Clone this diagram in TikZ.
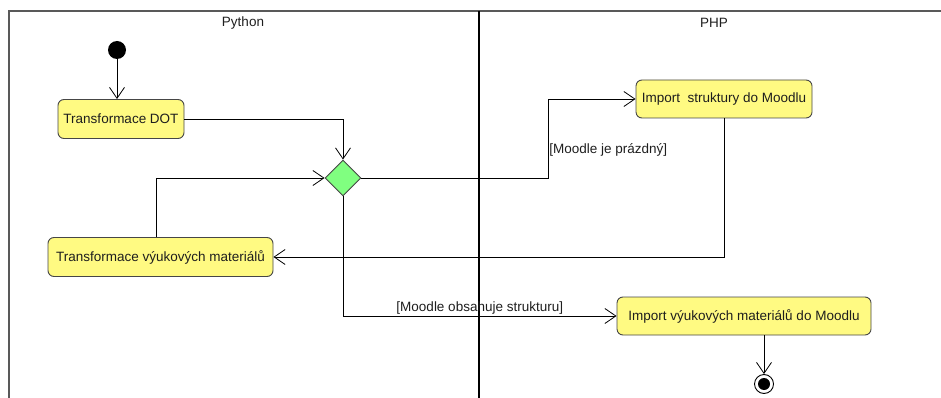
\documentclass[tikz,border=0pt]{standalone}
\usepackage{fontspec}
\setmainfont{Liberation Sans}
\usetikzlibrary{arrows.meta,shapes.geometric}
\definecolor{actfill}{RGB}{255,250,130}
\definecolor{actline}{RGB}{70,70,70}
\definecolor{decfill}{RGB}{128,255,128}
\definecolor{txt}{RGB}{30,30,30}
\tikzset{
  activity/.style={draw=actline, fill=actfill, rounded corners=6pt, line width=0.9pt,
    font=\fontsize{13.5}{15}\selectfont, text=txt, inner sep=0pt, align=center},
  decision/.style={draw=actline, fill=decfill, diamond, line width=0.9pt,
    minimum width=36pt, minimum height=36pt, inner sep=0pt},
  arr/.style={line width=0.8pt, -{Straight Barb[length=11pt,width=15pt,line width=0.8pt]}},
  guard/.style={font=\fontsize{13.5}{15}\selectfont, text=txt, inner sep=1pt},
  lane/.style={font=\fontsize{13.5}{15}\selectfont, text=txt},
}
\begin{document}
\begin{tikzpicture}[x=1pt,y=-1pt]
\useasboundingbox (0,0) rectangle (941,398);
% frame
\draw[line width=1.2pt, draw=black!65] (9,398) -- (9,11) -- (941,11);
\draw[line width=2pt] (479,11) -- (479,398);
\node[lane] (py) at (243,23) {Python};
\node[lane] (php) at (714,23) {PHP};
% nodes
\node[circle, fill=black, minimum size=18pt, inner sep=0pt] (start) at (117,50) {};
\node[activity, minimum width=126pt, minimum height=39pt] (dot) at (121,119) {Transformace DOT};
\node[decision] (dec) at (343,178) {};
\node[activity, minimum width=176pt, minimum height=38pt] (imp1) at (724,99) {Import\ \ struktury do Moodlu};
\node[activity, minimum width=225pt, minimum height=39pt] (trans) at (160.5,257) {Transformace výukových materiálů};
\node[activity, minimum width=254pt, minimum height=38pt] (imp2) at (744,316) {Import výukových materiálů do Moodlu};
\node[circle, draw=black, line width=0.9pt, minimum size=19pt, inner sep=0pt] (end) at (764,384) {};
\node[circle, fill=black, minimum size=12pt, inner sep=0pt] (endin) at (end.center) {};
% connectors
\draw[arr] (start) -- (dot.north -| start);
\draw[arr] (dot.east) -| (dec.north);
\draw[arr] (dec.east) -- (548,178) |- node[guard, pos=0.177, right] (g1) {[Moodle je prázdný]} (imp1.west);
\draw[arr] (imp1.south) |- (trans.east);
\draw[arr] ([xshift=-4.5pt]trans.north) |- (dec.west);
\draw[arr] (dec.south) |- node[guard, pos=0.75, above] (g2) {[Moodle obsahuje strukturu]} (imp2.west);
\draw[arr] ([xshift=20pt]imp2.south) -- (end);
\end{tikzpicture}
\end{document}
